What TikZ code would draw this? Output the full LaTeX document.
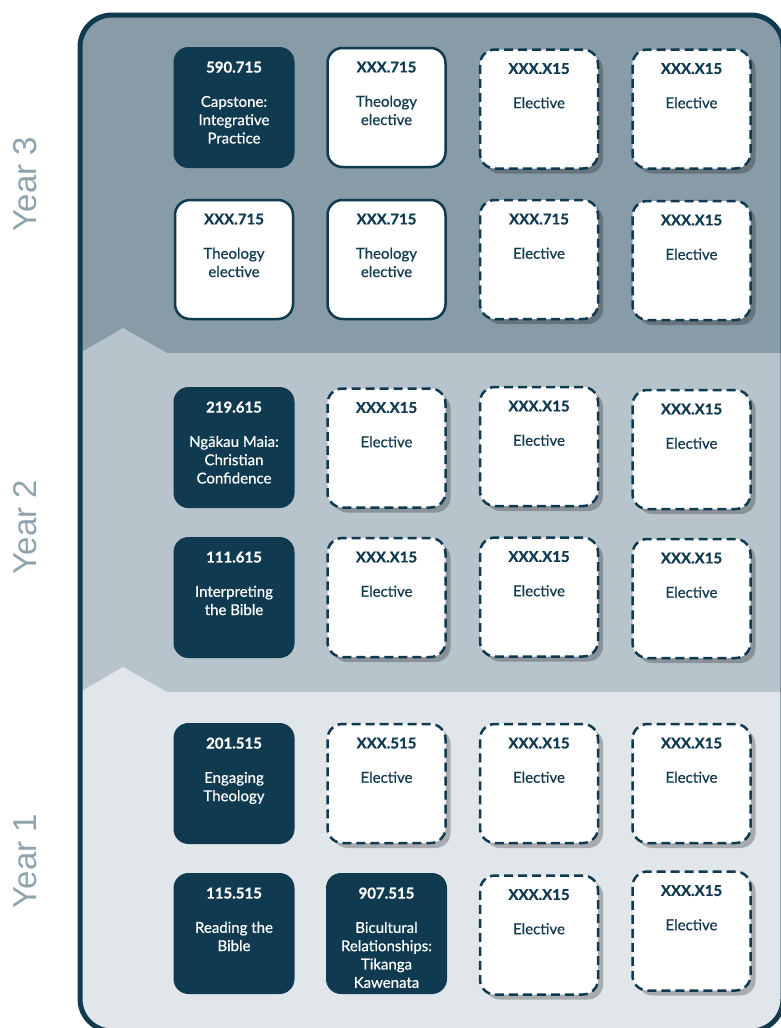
\documentclass[tikz,border=0pt]{standalone}
\usepackage{fontspec}
\setmainfont{Lato}[UprightFeatures={FakeBold=0.5},BoldFeatures={FakeBold=0.6}]
\newfontfamily\yearfont{Liberation Sans}
\usetikzlibrary{positioning,shadows}
\definecolor{navy}{HTML}{0F3A50}
\definecolor{bandthree}{HTML}{889CA7}
\definecolor{bandtwo}{HTML}{B8C4CB}
\definecolor{bandone}{HTML}{E1E6EA}
\definecolor{yeargray}{HTML}{8FA3AE}

\begin{document}
\begin{tikzpicture}[x=1pt,y=-1pt]
  \tikzstyle{core}=[draw=none,fill=navy,rounded corners=15pt,minimum width=121pt,minimum height=121pt,inner sep=0pt]
  \tikzstyle{theo}=[draw=navy,line width=2.5pt,fill=white,rounded corners=15pt,minimum width=118pt,minimum height=119pt,inner sep=0pt]
  \tikzstyle{elec}=[theo,dash pattern=on 9pt off 5pt,drop shadow={shadow xshift=5pt,shadow yshift=-5pt,fill=black,opacity=0.25}]
  \tikzstyle{coretext}=[text=white,align=center,inner sep=0pt,font=\fontsize{15}{18.3}\selectfont]
  \tikzstyle{electext}=[coretext,text=navy]
  \tikzstyle{year}=[text=yeargray,rotate=90,font=\yearfont\fontsize{33}{36}\selectfont]
  \useasboundingbox (0,0) rectangle (781,1028);
  % year bands
  \begin{scope}
    \clip[rounded corners=32pt] (80,15) rectangle (783,1031);
    \fill[bandthree] (80,15) rectangle (783,353);
    \fill[bandtwo] (80,353) rectangle (783,692);
    \fill[bandtwo] (80,353) -- (123,328) -- (167,353) -- cycle;
    \fill[bandone] (80,692) rectangle (783,1031);
    \fill[bandone] (80,692) -- (123,667) -- (167,692) -- cycle;
  \end{scope}
  \draw[navy,line width=5pt,rounded corners=32pt] (80,15) rectangle (783,1031);
  \node[year] (y3) at (25,184) {Year 3};
  \node[year] (y2) at (25,527) {Year 2};
  \node[year] (y1) at (25,861) {Year 1};
  % Year 3
  \node[core] (c11) at (234,107.5) {};
  \node[coretext, below=14.6pt of c11.north] (c11t) {\textbf{590.715}\\[16pt]Capstone:\\Integrative\\Practice};
  \node[theo] (c12) at (386.5,107.5) {};
  \node[electext, below=14.6pt of c12.north] (c12t) {\textbf{XXX.715}\\[16pt]Theology\\elective};
  \node[elec] (c13) at (539,109) {};
  \node[electext, below=14.6pt of c13.north] (c13t) {\textbf{XXX.X15}\\[16pt]Elective};
  \node[elec] (c14) at (691.5,109) {};
  \node[electext, below=14.6pt of c14.north] (c14t) {\textbf{XXX.X15}\\[16pt]Elective};
  \node[theo] (c21) at (234,259.5) {};
  \node[electext, below=14.6pt of c21.north] (c21t) {\textbf{XXX.715}\\[16pt]Theology\\elective};
  \node[theo] (c22) at (386.5,259.5) {};
  \node[electext, below=14.6pt of c22.north] (c22t) {\textbf{XXX.715}\\[16pt]Theology\\elective};
  \node[elec] (c23) at (539,259.5) {};
  \node[electext, below=14.6pt of c23.north] (c23t) {\textbf{XXX.715}\\[16pt]Elective};
  \node[elec] (c24) at (691.5,260.5) {};
  \node[electext, below=14.6pt of c24.north] (c24t) {\textbf{XXX.X15}\\[16pt]Elective};
  % Year 2
  \node[core] (c31) at (234,447.5) {};
  \node[coretext, below=14.6pt of c31.north] (c31t) {\textbf{219.615}\\[16pt]Ngākau Maia:\\Christian\\Confidence};
  \node[elec] (c32) at (386.5,448) {};
  \node[electext, below=14.6pt of c32.north] (c32t) {\textbf{XXX.X15}\\[16pt]Elective};
  \node[elec] (c33) at (539,446.5) {};
  \node[electext, below=14.6pt of c33.north] (c33t) {\textbf{XXX.X15}\\[16pt]Elective};
  \node[elec] (c34) at (691.5,449.5) {};
  \node[electext, below=14.6pt of c34.north] (c34t) {\textbf{XXX.X15}\\[16pt]Elective};
  \node[core] (c41) at (234,597.5) {};
  \node[coretext, below=14.6pt of c41.north] (c41t) {\textbf{111.615}\\[16pt]Interpreting\\the Bible};
  \node[elec] (c42) at (386.5,597.5) {};
  \node[electext, below=14.6pt of c42.north] (c42t) {\textbf{XXX.X15}\\[16pt]Elective};
  \node[elec] (c43) at (539,597) {};
  \node[electext, below=14.6pt of c43.north] (c43t) {\textbf{XXX.X15}\\[16pt]Elective};
  \node[elec] (c44) at (691.5,598.5) {};
  \node[electext, below=14.6pt of c44.north] (c44t) {\textbf{XXX.X15}\\[16pt]Elective};
  % Year 1
  \node[core] (c51) at (234,783.5) {};
  \node[coretext, below=14.6pt of c51.north] (c51t) {\textbf{201.515}\\[16pt]Engaging\\Theology};
  \node[elec] (c52) at (386.5,783.5) {};
  \node[electext, below=14.6pt of c52.north] (c52t) {\textbf{XXX.515}\\[16pt]Elective};
  \node[elec] (c53) at (539,783.5) {};
  \node[electext, below=14.6pt of c53.north] (c53t) {\textbf{XXX.X15}\\[16pt]Elective};
  \node[elec] (c54) at (691.5,783.5) {};
  \node[electext, below=14.6pt of c54.north] (c54t) {\textbf{XXX.X15}\\[16pt]Elective};
  \node[core] (c61) at (234,933.5) {};
  \node[coretext, below=14.6pt of c61.north] (c61t) {\textbf{115.515}\\[16pt]Reading the\\Bible};
  \node[core] (c62) at (386.5,933.5) {};
  \node[coretext, below=14.6pt of c62.north] (c62t) {\textbf{907.515}\\[16pt]Bicultural\\Relationships:\\Tikanga\\Kawenata};
  \node[elec] (c63) at (539,935) {};
  \node[electext, below=14.6pt of c63.north] (c63t) {\textbf{XXX.X15}\\[16pt]Elective};
  \node[elec] (c64) at (691.5,931) {};
  \node[electext, below=14.6pt of c64.north] (c64t) {\textbf{XXX.X15}\\[16pt]Elective};
\end{tikzpicture}
\end{document}
